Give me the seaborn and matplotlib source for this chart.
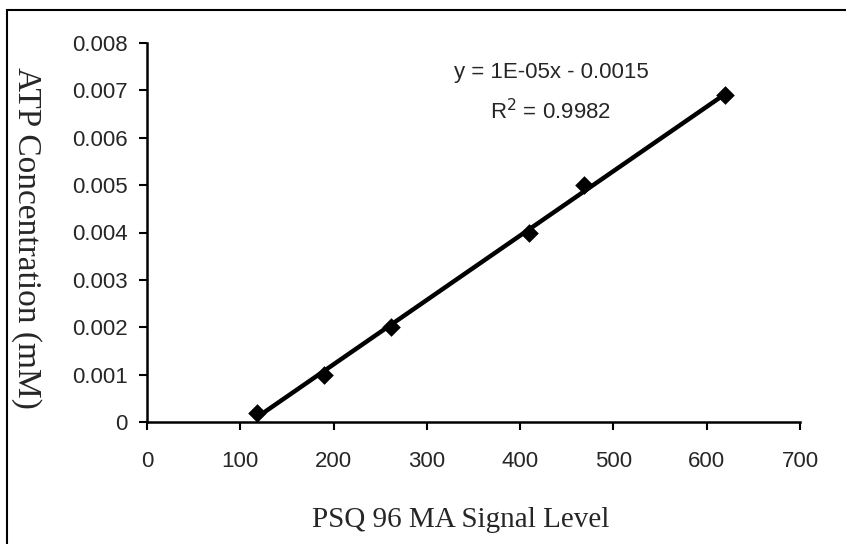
import matplotlib
matplotlib.use("Agg")
import matplotlib.pyplot as plt
from matplotlib.patches import Rectangle
import numpy as np
import pandas as pd
import seaborn as sns

# values
signal_level = [118, 190, 262, 410, 468, 620]
atp_conc = [0.0002, 0.001, 0.002, 0.004, 0.005, 0.0069]
x_ticks = [0, 100, 200, 300, 400, 500, 600, 700]
y_ticks = [0, 0.001, 0.002, 0.003, 0.004, 0.005, 0.006, 0.007, 0.008]
y_tick_labels = ["0", "0.001", "0.002", "0.003", "0.004", "0.005", "0.006", "0.007", "0.008"]
equation_text = "y = 1E-05x - 0.0015"
r2_text = "R$^2$ = 0.9982"

df = pd.DataFrame({"signal": signal_level, "atp": atp_conc})

sns.set_style("ticks")
plt.rcParams["font.family"] = ["Liberation Sans", "DejaVu Sans"]

fig = plt.figure(figsize=(8.46, 5.44), dpi=100)
ax = fig.add_axes([147 / 846, 1 - 422 / 544, 653 / 846, 379 / 544])

sns.regplot(
    data=df, x="signal", y="atp", ci=None, truncate=True, ax=ax,
    marker="D", color="black",
    scatter_kws={"s": 90, "linewidths": 0, "alpha": 1},
    line_kws={"linewidth": 3.2, "solid_capstyle": "round"},
)

ax.set_xlim(0, 700)
ax.set_ylim(0, 0.008)
ax.set_xticks(x_ticks)
ax.set_yticks(y_ticks)
ax.set_yticklabels(y_tick_labels)
ax.tick_params(axis="both", labelsize=16, width=1.5, length=6, direction="out", color="black")
ax.tick_params(axis="x", pad=15)
ax.tick_params(axis="y", pad=8)
for side in ["left", "bottom"]:
    ax.spines[side].set_linewidth(1.8)
    ax.spines[side].set_color("black")
sns.despine(ax=ax)

ax.set_xlabel("PSQ 96 MA Signal Level", family=["Liberation Serif", "DejaVu Serif"], fontsize=21)
ax.set_ylabel("ATP Concentration (mM)", family=["Liberation Serif", "DejaVu Serif"], fontsize=24,
              rotation=270, va="center")
ax.xaxis.set_label_coords(0.481, -0.225)
ax.yaxis.set_label_coords(-0.184, 0.485)

ax.text(433, 0.00738, equation_text, ha="center", va="center", fontsize=16)
ax.text(433, 0.00656, r2_text, ha="center", va="center", fontsize=16)

# outer frame of the scanned chart
fig.patches.append(Rectangle((7 / 846, -0.1), 1.2, 1.1 - 10 / 544, transform=fig.transFigure,
                             fill=False, edgecolor="black", linewidth=1.5))

fig.savefig("out.png", dpi=100)
